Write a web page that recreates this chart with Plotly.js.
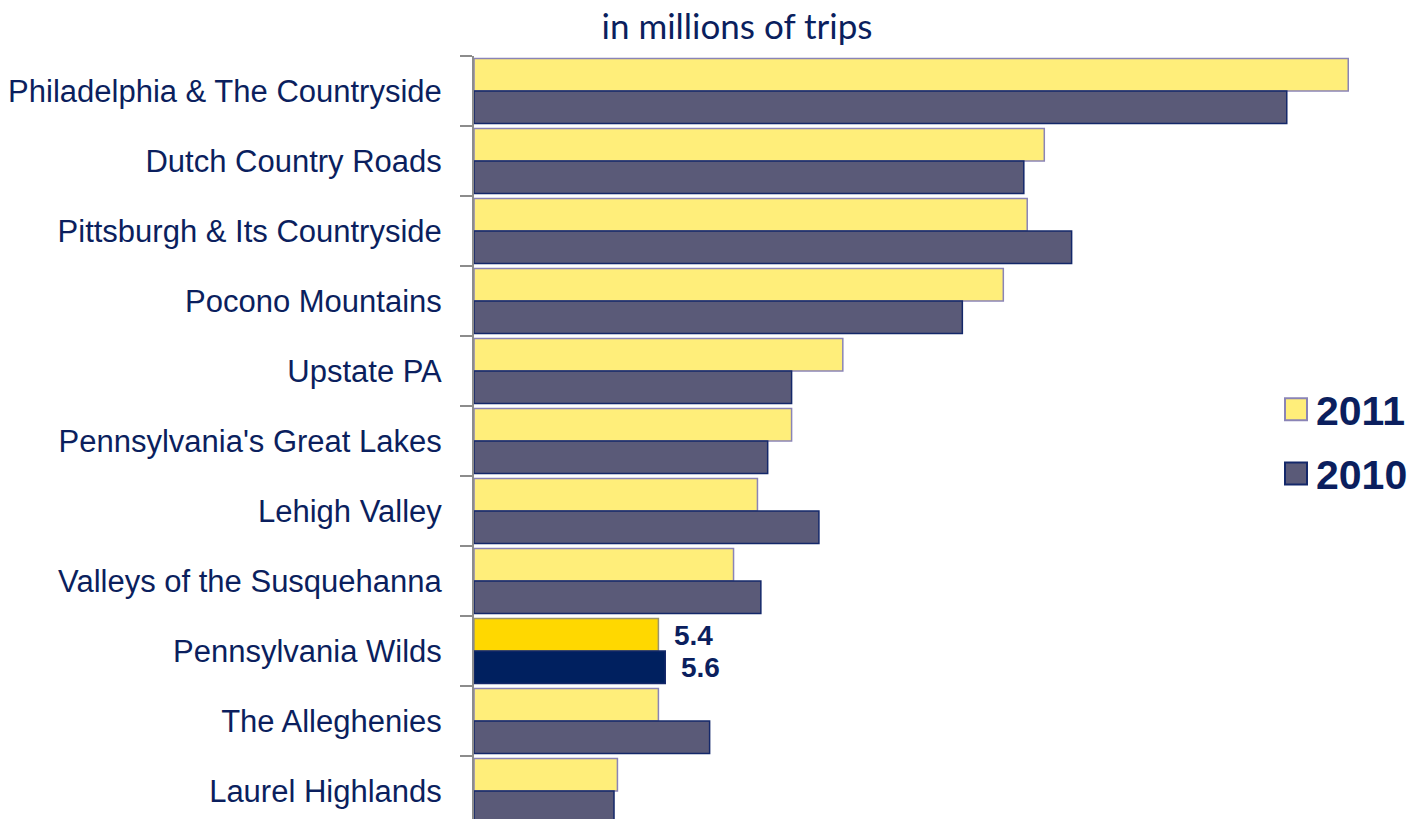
<!DOCTYPE html>
<html>
<head>
<meta charset="utf-8">
<script src="https://cdn.plot.ly/plotly-3.0.1.min.js"></script>
<style>
  html, body { margin: 0; padding: 0; overflow: hidden; background: #fff; }
  #chart { width: 1414px; height: 840px; }
</style>
</head>
<body>
<div id="chart"></div>
<script>
const regions = [
  "Philadelphia & The Countryside",
  "Dutch Country Roads",
  "Pittsburgh & Its Countryside",
  "Pocono Mountains",
  "Upstate PA",
  "Pennsylvania's Great Lakes",
  "Lehigh Valley",
  "Valleys of the Susquehanna",
  "Pennsylvania Wilds",
  "The Alleghenies",
  "Laurel Highlands"
];
const trips2011 = [25.6, 16.7, 16.2, 15.5, 10.8, 9.3, 8.3, 7.6, 5.4, 5.4, 4.2];
const trips2010 = [23.8, 16.1, 17.5, 14.3, 9.3, 8.6, 10.1, 8.4, 5.6, 6.9, 4.1];
const highlighted = "Pennsylvania Wilds";
const seriesNames = ["2011", "2010"];
const chartTitle = "in millions of trips";

const navy = "#0b1f5e";
const yellow = "#FFEE7A";
const gold = "#FFD800";
const darkBar = "#5a5a78";
const navyBar = "#00205f";

const c2011 = regions.map(r => r === highlighted ? gold : yellow);
const l2011 = regions.map(r => r === highlighted ? "#9a9470" : "#8a84b6");
const c2010 = regions.map(r => r === highlighted ? navyBar : darkBar);

const traces = [
  {
    type: "bar", orientation: "h", name: seriesNames[0],
    y: regions, x: trips2011, legendgroup: "a",
    marker: { color: c2011, line: { color: l2011, width: 1.5 } },
    hoverinfo: "x+y"
  },
  {
    type: "bar", orientation: "h", name: seriesNames[1],
    y: regions, x: trips2010, legendgroup: "b",
    marker: { color: c2010, line: { color: "#14286a", width: 1.5 } },
    hoverinfo: "x+y"
  }
];

const hi = regions.indexOf(highlighted);
const annotations = [
  { x: trips2011[hi], y: regions[hi], text: trips2011[hi].toFixed(1), yshift: 16 },
  { x: trips2010[hi], y: regions[hi], text: trips2010[hi].toFixed(1), yshift: -16 }
].map(a => Object.assign(a, {
  xref: "x", yref: "y", xanchor: "left", yanchor: "middle", xshift: 14,
  showarrow: false,
  font: { family: "Liberation Sans, Arial, sans-serif", size: 28, color: navy, weight: "bold" }
}));

const plotW = 1414 - 474;
const layout = {
  width: 1414, height: 840,
  margin: { l: 474, r: 0, t: 56, b: 14, pad: 0 },
  paper_bgcolor: "#fff", plot_bgcolor: "#fff",
  barmode: "group", bargap: 0.07, bargroupgap: 0,
  title: {
    text: chartTitle, x: (737 - 0) / 1414, xref: "container", xanchor: "center",
    y: 1 - 27 / 840, yanchor: "middle",
    font: { family: "Lato, 'Open Sans', sans-serif", size: 35, color: navy }
  },
  xaxis: {
    range: [0, plotW / 34.15], showgrid: false, zeroline: false, showline: false,
    showticklabels: false, ticks: ""
  },
  yaxis: {
    type: "category", autorange: "reversed",
    showline: true, linecolor: "#8c8c8c", linewidth: 2,
    ticks: "outside", ticklen: 12, tickwidth: 2, tickcolor: "#8c8c8c",
    tickson: "boundaries", showgrid: false, zeroline: false,
    ticklabelstandoff: 24,
    tickfont: { family: "'Liberation Sans', Arial, sans-serif", size: 31, color: navy }
  },
  showlegend: true,
  legend: {
    x: (1276 - 474) / plotW, xanchor: "left", y: 1 - (376 - 56) / 770, yanchor: "top",
    traceorder: "grouped", tracegroupgap: 8,
    font: { family: "Liberation Sans, Arial, sans-serif", size: 41, color: navy, weight: "bold" },
    itemwidth: 30, bgcolor: "rgba(0,0,0,0)"
  },
  annotations: annotations
};

Plotly.newPlot("chart", traces, layout, { displayModeBar: false, responsive: false }).then(() => {
  document.querySelectorAll(".legendpoints path").forEach(p => {
    p.setAttribute("d", "M11,11H-11V-11H11Z");
    p.style.strokeWidth = "2px";
  });
});
</script>
</body>
</html>
